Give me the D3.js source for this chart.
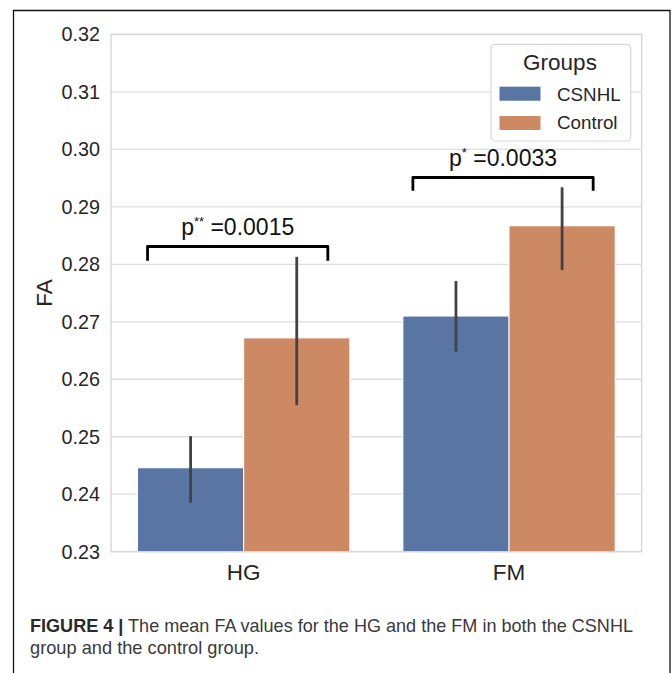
<!DOCTYPE html>
<html>
<head>
<meta charset="utf-8">
<script src="https://cdn.jsdelivr.net/npm/d3@7"></script>
<style>
  html, body { margin: 0; padding: 0; background: #fff; }
  svg { display: block; font-family: "Liberation Sans", Arial, Helvetica, sans-serif; }
</style>
</head>
<body>
<svg id="chart" width="672" height="673"></svg>
<script>
// Brain regions on the x axis and the two participant groups
const categories = ["HG", "FM"];
const groups = ["CSNHL", "Control"];

// Mean FA per region, one array per group
const csnhlMeans   = [0.2446, 0.2710];
const controlMeans = [0.2672, 0.2867];

// 95% confidence interval bounds per region
const csnhlLow    = [0.2385, 0.2648];
const csnhlHigh   = [0.2501, 0.2771];
const controlLow  = [0.2555, 0.2790];
const controlHigh = [0.2813, 0.2934];

// Y axis ticks
const yTicks = [0.23, 0.24, 0.25, 0.26, 0.27, 0.28, 0.29, 0.30, 0.31, 0.32];

// Significance annotations: region, stars, p-value, bracket level (FA units)
const sigRegions = ["HG", "FM"];
const sigStars   = ["**", "*"];
const sigP       = ["0.0015", "0.0033"];
const sigLevel   = [0.2831, 0.2951];
const sigDrop    = [0.0025, 0.0023];

const colors = ["#5875a4", "#cc8963"];
const font = '"Liberation Sans", Arial, Helvetica, sans-serif';

const svg = d3.select("#chart");

// Outer figure frame (open at the bottom)
svg.append("path")
  .attr("d", "M13.5,673 V10.5 H670 V673")
  .attr("fill", "none")
  .attr("stroke", "#111")
  .attr("stroke-width", 1.3);

const plot = { left: 111, right: 641.7, top: 34.4, bottom: 551.7 };

const x = d3.scaleBand()
  .domain(categories)
  .range([plot.left, plot.right])
  .paddingInner(0.2)
  .paddingOuter(0.1);

const xSub = d3.scaleBand()
  .domain(groups)
  .range([0, x.bandwidth()]);

const y = d3.scaleLinear()
  .domain([0.23, 0.32])
  .range([plot.bottom, plot.top]);

// Gridlines
svg.append("g")
  .selectAll("line")
  .data(yTicks)
  .join("line")
  .attr("x1", plot.left)
  .attr("x2", plot.right)
  .attr("y1", d => y(d))
  .attr("y2", d => y(d))
  .attr("stroke", "#dedede")
  .attr("stroke-width", 1.3);

// Y axis labels
const yAxis = d3.axisLeft(y).tickValues(yTicks).tickFormat(d3.format(".2f")).tickSize(0).tickPadding(11);
const yg = svg.append("g").attr("transform", `translate(${plot.left},0)`).call(yAxis);
yg.select(".domain").remove();
yg.selectAll("text")
  .attr("font-family", font)
  .attr("font-size", 19.8)
  .attr("fill", "#262626");

// X axis labels
const xAxis = d3.axisBottom(x).tickSize(0).tickPadding(12);
const xg = svg.append("g").attr("transform", `translate(0,${plot.bottom})`).call(xAxis);
xg.select(".domain").remove();
xg.selectAll("text")
  .attr("font-family", font)
  .attr("font-size", 22.5)
  .attr("fill", "#262626");

// Bars
const rows = categories.map((c, i) => ({
  category: c,
  values: [
    { group: groups[0], mean: csnhlMeans[i], low: csnhlLow[i], high: csnhlHigh[i] },
    { group: groups[1], mean: controlMeans[i], low: controlLow[i], high: controlHigh[i] }
  ]
}));

const color = d3.scaleOrdinal().domain(groups).range(colors);

const cat = svg.append("g")
  .selectAll("g")
  .data(rows)
  .join("g")
  .attr("transform", d => `translate(${x(d.category)},0)`);

cat.selectAll("rect")
  .data(d => d.values)
  .join("rect")
  .attr("x", d => xSub(d.group))
  .attr("width", xSub.bandwidth())
  .attr("y", d => y(d.mean))
  .attr("height", d => y(0.23) - y(d.mean))
  .attr("fill", d => color(d.group))
  .attr("stroke", "#fff")
  .attr("stroke-width", 1);

// Error bars
cat.selectAll("line.err")
  .data(d => d.values)
  .join("line")
  .attr("class", "err")
  .attr("x1", d => xSub(d.group) + xSub.bandwidth() / 2)
  .attr("x2", d => xSub(d.group) + xSub.bandwidth() / 2)
  .attr("y1", d => y(d.low))
  .attr("y2", d => y(d.high))
  .attr("stroke", "#424242")
  .attr("stroke-width", 2.8);

// Axes frame
svg.append("rect")
  .attr("x", plot.left)
  .attr("y", plot.top)
  .attr("width", plot.right - plot.left)
  .attr("height", plot.bottom - plot.top)
  .attr("fill", "none")
  .attr("stroke", "#d4d4d4")
  .attr("stroke-width", 1.3);

// Significance brackets
sigRegions.forEach((r, i) => {
  const x0 = x(r) + 10;
  const x1 = x(r) + x.bandwidth() - 22;
  const yTop = y(sigLevel[i]);
  const yBot = y(sigLevel[i] - sigDrop[i]);
  svg.append("path")
    .attr("d", `M${x0},${yBot} V${yTop} H${x1} V${yBot}`)
    .attr("fill", "none")
    .attr("stroke", "#000")
    .attr("stroke-width", 2.8)
    .attr("stroke-linejoin", "round");
  const t = svg.append("text")
    .attr("x", (x0 + x1) / 2)
    .attr("y", yTop - 11.5)
    .attr("text-anchor", "middle")
    .attr("font-family", font)
    .attr("font-size", 23)
    .attr("fill", "#111");
  t.append("tspan").text("p");
  t.append("tspan").attr("font-size", 13).attr("dy", -9).text(sigStars[i]);
  t.append("tspan").attr("dy", 9).text(" =" + sigP[i]);
});

// Legend
const lg = svg.append("g");
lg.append("rect")
  .attr("x", 491).attr("y", 44.3)
  .attr("width", 139.7).attr("height", 96.7)
  .attr("rx", 4)
  .attr("fill", "#fff").attr("fill-opacity", 0.85)
  .attr("stroke", "#d8d8d8").attr("stroke-width", 1.2);
lg.append("text")
  .attr("x", 560).attr("y", 70)
  .attr("text-anchor", "middle")
  .attr("font-family", font).attr("font-size", 22.5)
  .attr("fill", "#262626")
  .text("Groups");
groups.forEach((g, i) => {
  lg.append("rect")
    .attr("x", 499.5).attr("y", 86.7 + i * 29.3)
    .attr("width", 41).attr("height", 14)
    .attr("fill", color(g));
  lg.append("text")
    .attr("x", 557).attr("y", 100.8 + i * 28.5)
    .attr("font-family", font).attr("font-size", 18.8)
    .attr("fill", "#262626")
    .text(g);
});

// Y axis title
svg.append("text")
  .attr("transform", `translate(52,${(plot.top + plot.bottom) / 2}) rotate(-90)`)
  .attr("text-anchor", "middle")
  .attr("font-family", font).attr("font-size", 22.5)
  .attr("fill", "#262626")
  .text("FA");

// Caption
const cap1 = svg.append("text")
  .attr("x", 30).attr("y", 631.7)
  .attr("font-family", font).attr("font-size", 18.2)
  .attr("textLength", 603).attr("lengthAdjust", "spacingAndGlyphs");
cap1.append("tspan").attr("font-weight", "bold").attr("fill", "#2a2a2a").text("FIGURE 4 |");
cap1.append("tspan").attr("fill", "#3a3a3a").text(" The mean FA values for the HG and the FM in both the CSNHL");

svg.append("text")
  .attr("x", 30).attr("y", 653.5)
  .attr("font-family", font).attr("font-size", 18.2)
  .attr("fill", "#3a3a3a")
  .attr("textLength", 229).attr("lengthAdjust", "spacingAndGlyphs")
  .text("group and the control group.");
</script>
</body>
</html>
